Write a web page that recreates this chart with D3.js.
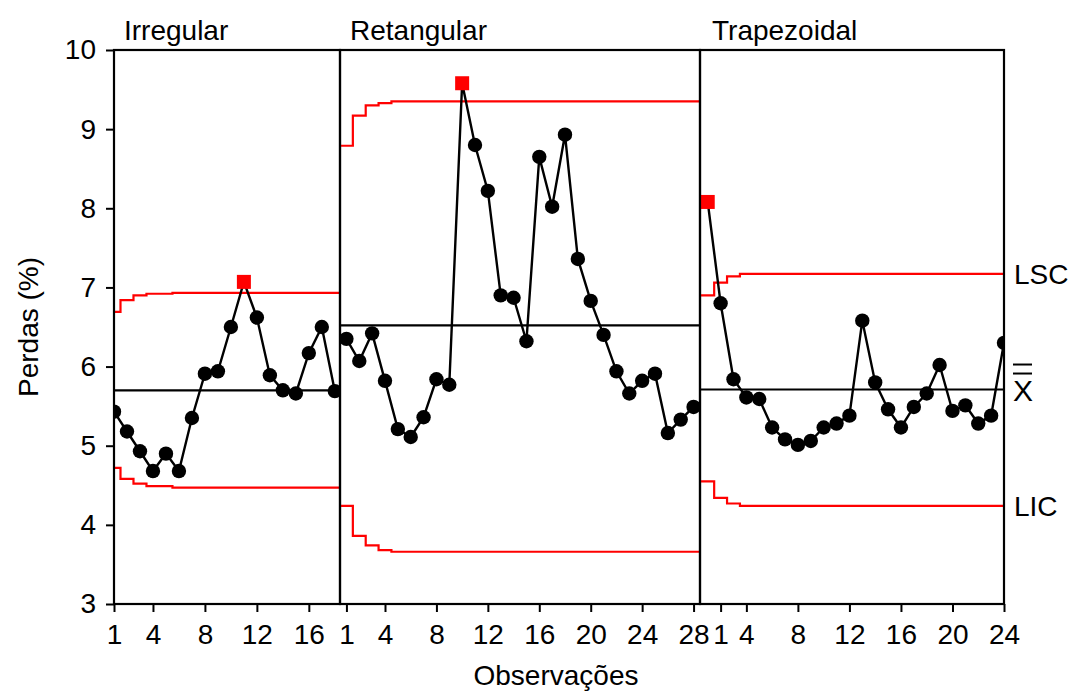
<!DOCTYPE html>
<meta charset="utf-8">
<script src="https://d3js.org/d3.v7.min.js"></script>
<style>
  body { margin: 0; background: #fff; }
  text { font-family: "Liberation Sans", Arial, sans-serif; fill: #000; }
</style>
<div id="chart"></div>
<script>

// observed losses (%) for each product shape
var irregular = [5.43, 5.18, 4.93, 4.68, 4.90, 4.68, 5.35, 5.91, 5.94, 6.50, 7.07, 6.62, 5.89, 5.70, 5.66, 6.17, 6.50, 5.69];
var retangular = [6.35, 6.07, 6.42, 5.82, 5.21, 5.11, 5.36, 5.84, 5.77, 9.58, 8.80, 8.22, 6.90, 6.87, 6.32, 8.65, 8.02, 8.93, 7.36, 6.83, 6.40, 5.94, 5.66, 5.82, 5.91, 5.16, 5.33, 5.49];
var trapezoidal = [8.08, 6.80, 5.84, 5.61, 5.59, 5.23, 5.08, 5.01, 5.06, 5.23, 5.28, 5.38, 6.58, 5.80, 5.46, 5.23, 5.49, 5.66, 6.02, 5.44, 5.51, 5.28, 5.38, 6.30];

// control limits (LSC / LIC) per observation, and centre lines
var lscIrregular = [6.69, 6.84, 6.90, 6.92, 6.92, 6.93, 6.93, 6.93, 6.93, 6.93, 6.93, 6.93, 6.93, 6.93, 6.93, 6.93, 6.93, 6.93];
var licIrregular = [4.72, 4.58, 4.52, 4.49, 4.49, 4.47, 4.47, 4.47, 4.47, 4.47, 4.47, 4.47, 4.47, 4.47, 4.47, 4.47, 4.47, 4.47];
var lscRetangular = [8.79, 9.17, 9.30, 9.33, 9.35, 9.35, 9.35, 9.35, 9.35, 9.35, 9.35, 9.35, 9.35, 9.35, 9.35, 9.35, 9.35, 9.35, 9.35, 9.35, 9.35, 9.35, 9.35, 9.35, 9.35, 9.35, 9.35, 9.35];
var licRetangular = [4.24, 3.86, 3.74, 3.68, 3.66, 3.66, 3.66, 3.66, 3.66, 3.66, 3.66, 3.66, 3.66, 3.66, 3.66, 3.66, 3.66, 3.66, 3.66, 3.66, 3.66, 3.66, 3.66, 3.66, 3.66, 3.66, 3.66, 3.66];
var lscTrapezoidal = [6.90, 7.06, 7.14, 7.17, 7.17, 7.17, 7.17, 7.17, 7.17, 7.17, 7.17, 7.17, 7.17, 7.17, 7.17, 7.17, 7.17, 7.17, 7.17, 7.17, 7.17, 7.17, 7.17, 7.17];
var licTrapezoidal = [4.55, 4.34, 4.27, 4.24, 4.24, 4.24, 4.24, 4.24, 4.24, 4.24, 4.24, 4.24, 4.24, 4.24, 4.24, 4.24, 4.24, 4.24, 4.24, 4.24, 4.24, 4.24, 4.24, 4.24];
var centre = [5.70, 6.52, 5.71];

var titles = ["Irregular", "Retangular", "Trapezoidal"];
var xDomains = [[1, 18.4], [0.5, 28.5], [0.4, 24]];
var xTicks = [[1, 4, 8, 12, 16], [1, 4, 8, 12, 16, 20, 24, 28], [2, 4, 8, 12, 16, 20, 24]];
var xTickLabels = [["1", "4", "8", "12", "16"], ["1", "4", "8", "12", "16", "20", "24", "28"], ["1", "4", "8", "12", "16", "20", "24"]];
var yTicks = [3, 4, 5, 6, 7, 8, 9, 10];

var panels = [
  {values: irregular, lsc: lscIrregular, lic: licIrregular},
  {values: retangular, lsc: lscRetangular, lic: licRetangular},
  {values: trapezoidal, lsc: lscTrapezoidal, lic: licTrapezoidal}
];

var width = 1072, height = 691;
var plotTop = 50, plotBottom = 604;
var edges = [114, 340, 700, 1004];

var svg = d3.select("#chart")
  .append("svg")
    .attr("width", width)
    .attr("height", height);

var y = d3.scaleLinear()
  .domain([3, 10])
  .range([plotBottom, plotTop]);

// y axis on the left
var yAxis = svg.append("g")
  .attr("transform", "translate(" + edges[0] + ",0)")
  .call(d3.axisLeft(y).tickValues(yTicks).tickFormat(d3.format("d")).tickSize(8).tickPadding(10));
yAxis.select(".domain").remove();
yAxis.selectAll("line").attr("stroke-width", 2);
yAxis.selectAll("text").style("font-size", "28px").attr("font-family", null);

panels.forEach(function(p, k) {
  var x0 = edges[k], x1 = edges[k + 1];
  var x = d3.scaleLinear().domain(xDomains[k]).range([x0, x1]);
  var g = svg.append("g");

  g.append("clipPath").attr("id", "clip" + k)
    .append("rect")
      .attr("x", x0).attr("y", plotTop)
      .attr("width", x1 - x0).attr("height", plotBottom - plotTop);

  var inner = g.append("g").attr("clip-path", "url(#clip" + k + ")");

  // step-wise limits: extend first and last value to panel edges
  function stepPoints(arr) {
    var pts = arr.map(function(v, i) { return [i + 1, v]; });
    pts.unshift([xDomains[k][0] - 1, arr[0]]);
    pts.push([xDomains[k][1] + 1, arr[arr.length - 1]]);
    return pts;
  }
  var stepLine = d3.line()
    .x(function(d) { return x(d[0]); })
    .y(function(d) { return y(d[1]); })
    .curve(d3.curveStep);

  [p.lsc, p.lic].forEach(function(arr) {
    inner.append("path")
      .attr("d", stepLine(stepPoints(arr)))
      .attr("fill", "none")
      .attr("stroke", "#ff0000")
      .attr("stroke-width", 2.2);
  });

  inner.append("line")
    .attr("x1", x0).attr("x2", x1)
    .attr("y1", y(centre[k])).attr("y2", y(centre[k]))
    .attr("stroke", "#000")
    .attr("stroke-width", 2.2);

  // frame of the panel
  g.append("rect")
    .attr("x", x0).attr("y", plotTop)
    .attr("width", x1 - x0).attr("height", plotBottom - plotTop)
    .attr("fill", "none")
    .attr("stroke", "#000")
    .attr("stroke-width", 2.2);

  var data = p.values.map(function(v, i) { return {i: i + 1, v: v, out: v > p.lsc[i] || v < p.lic[i]}; });

  inner.append("path")
    .datum(data)
    .attr("d", d3.line().x(function(d) { return x(d.i); }).y(function(d) { return y(d.v); }))
    .attr("fill", "none")
    .attr("stroke", "#000")
    .attr("stroke-width", 2.4);

  inner.selectAll("circle")
    .data(data.filter(function(d) { return !d.out; }))
    .enter()
    .append("circle")
      .attr("cx", function(d) { return x(d.i); })
      .attr("cy", function(d) { return y(d.v); })
      .attr("r", 7.2)
      .attr("fill", "#000");

  inner.selectAll("rect.out")
    .data(data.filter(function(d) { return d.out; }))
    .enter()
    .append("rect")
      .attr("class", "out")
      .attr("x", function(d) { return x(d.i) - 7; })
      .attr("y", function(d) { return y(d.v) - 7; })
      .attr("width", 14)
      .attr("height", 14)
      .attr("fill", "#ff0000");

  // x axis for this panel
  var xa = svg.append("g")
    .attr("transform", "translate(0," + plotBottom + ")")
    .call(d3.axisBottom(x)
      .tickValues(xTicks[k])
      .tickFormat(function(d, i) { return xTickLabels[k][i]; })
      .tickSize(8)
      .tickPadding(12));
  xa.select(".domain").remove();
  xa.selectAll("line").attr("stroke-width", 2);
  xa.selectAll("text").style("font-size", "28px").attr("font-family", null);

  svg.append("text")
    .attr("x", x0 + [10, 10, 12][k])
    .attr("y", 40)
    .style("font-size", "28px")
    .text(titles[k]);
});

// labels on the right of the last panel
var lastLsc = lscTrapezoidal[lscTrapezoidal.length - 1];
var lastLic = licTrapezoidal[licTrapezoidal.length - 1];

svg.append("text")
  .attr("x", 1014).attr("y", y(lastLsc)).attr("dy", "0.36em")
  .style("font-size", "28px")
  .text("LSC");
svg.append("text")
  .attr("x", 1014).attr("y", y(lastLic)).attr("dy", "0.36em")
  .style("font-size", "28px")
  .text("LIC");
svg.append("text")
  .attr("x", 1013).attr("y", y(centre[2])).attr("dy", "0.38em")
  .style("font-size", "30px")
  .text("X");
[-25, -16].forEach(function(off) {
  svg.append("line")
    .attr("x1", 1013).attr("x2", 1032)
    .attr("y1", y(centre[2]) + off).attr("y2", y(centre[2]) + off)
    .attr("stroke", "#000")
    .attr("stroke-width", 2);
});

// axis titles
svg.append("text")
  .attr("transform", "translate(28," + ((plotTop + plotBottom) / 2) + ") rotate(-90)")
  .attr("text-anchor", "middle")
  .attr("dy", "0.36em")
  .style("font-size", "28px")
  .text("Perdas (%)");

svg.append("text")
  .attr("x", 556)
  .attr("y", 685)
  .attr("text-anchor", "middle")
  .style("font-size", "28px")
  .text("Observações");

</script>
